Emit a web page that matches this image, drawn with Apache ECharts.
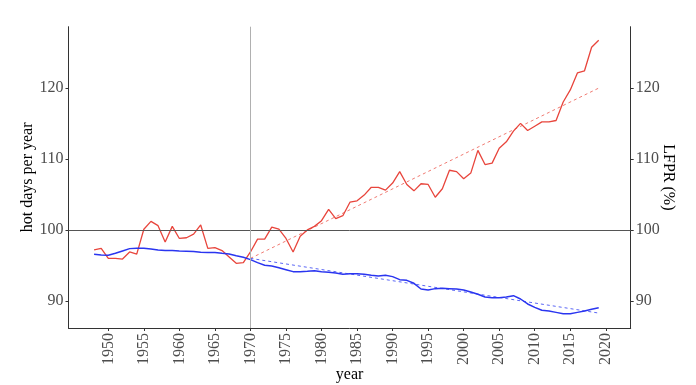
<!DOCTYPE html>
<html><head><meta charset="utf-8">
<script src="https://cdn.jsdelivr.net/npm/echarts@6/dist/echarts.min.js"></script>
<style>html,body{margin:0;padding:0;background:#fff}#c{width:696px;height:385px}</style>
</head><body><div id="c"></div>
<script>
const years = [];
for (let y = 1948; y <= 2019; y++) years.push(y);
const hotDays = [97.2,97.4,96.0,96.0,95.9,96.9,96.6,100.1,101.2,100.6,98.3,100.5,98.8,98.9,99.4,100.7,97.4,97.5,97.1,96.2,95.3,95.4,
  96.9,98.7,98.7,100.4,100.1,98.8,96.9,99.1,100.0,100.5,101.3,102.9,101.6,102.0,103.9,104.1,104.9,106.0,106.0,105.6,106.6,108.2,106.4,105.5,106.5,106.4,104.6,105.8,108.4,108.2,107.2,108.0,111.2,109.2,109.4,111.5,112.4,113.9,115.0,114.0,114.6,115.2,115.2,115.4,118.0,119.7,122.1,122.4,125.7,126.7];
const lfpr = [96.57,96.48,96.43,96.71,97.04,97.37,97.42,97.42,97.32,97.18,97.09,97.09,97.04,97.0,96.95,96.85,96.81,96.81,96.71,96.62,96.38,96.15,
  95.82,95.4,95.02,94.93,94.69,94.41,94.13,94.13,94.18,94.27,94.13,94.04,93.94,93.76,93.85,93.85,93.76,93.62,93.52,93.62,93.43,93.0,92.91,92.49,91.69,91.55,91.74,91.78,91.74,91.69,91.55,91.27,90.94,90.56,90.47,90.47,90.56,90.75,90.28,89.58,89.11,88.69,88.59,88.4,88.21,88.21,88.4,88.59,88.83,89.06];
const trendYears = [1970, 2019];
const hotTrend = [96.0, 119.96];
const lfprTrend = [96.0, 88.3];
const xTicks = [1950,1955,1960,1965,1970,1975,1980,1985,1990,1995,2000,2005,2010,2015,2020];
const yTicks = [90,100,110,120];
const refYear = 1970, refLevel = 100;

const font = 'Liberation Serif';
const pair = (xs, ys) => xs.map((x, i) => [x, ys[i]]);
const yAx = (pos, name, rot, gap) => ({
  type:'value', position:pos, min:86.2, max:128.6, name:name, nameLocation:'middle', nameRotate:rot, nameGap:gap,
  nameMoveOverlap:false,
  nameTextStyle:{fontFamily:font, fontSize:16, color:'#000'},
  axisLine:{show:true, lineStyle:{color:'#333', width:1}},
  axisTick:{show:true, length:3, customValues:yTicks, lineStyle:{color:'#333'}},
  axisLabel:{customValues:yTicks, fontFamily:font, fontSize:16, color:'#4d4d4d', margin:5, formatter:v => String(v)},
  splitLine:{show:false}
});
const chart = echarts.init(document.getElementById('c'), null, {renderer:'canvas'});
chart.setOption({
  animation:false,
  grid:{left:68.5, right:65.3, top:26.7, bottom:57, containLabel:false, outerBoundsMode:'none'},
  xAxis:{type:'value', min:1944.4, max:2023.5, name:'year', nameLocation:'middle', nameGap:39, nameMoveOverlap:false,
    nameTextStyle:{fontFamily:font, fontSize:16, color:'#000'},
    axisLine:{show:true, onZero:false, lineStyle:{color:'#333', width:1}},
    axisTick:{show:true, length:3, customValues:xTicks, lineStyle:{color:'#333'}},
    axisLabel:{customValues:xTicks, rotate:90, fontFamily:font, fontSize:16, color:'#4d4d4d', margin:5, padding:[0,0,0,0], formatter:v => String(v)},
    splitLine:{show:false}},
  yAxis:[yAx('left','hot days per year',90,33), yAx('right','LFPR (%)',-90,30)],
  series:[
    {type:'line', data:pair(years, hotDays), yAxisIndex:0, showSymbol:false, lineStyle:{color:'#e8453c', width:1.3}, z:3,
     markLine:{silent:true, symbol:'none', label:{show:false},
       data:[{yAxis:refLevel, lineStyle:{color:'#555', width:1, type:'solid'}},
             {xAxis:refYear, lineStyle:{color:'#b0b0b0', width:1, type:'solid'}}]}},
    {type:'line', data:pair(years, lfpr), yAxisIndex:1, showSymbol:false, lineStyle:{color:'#2a35f0', width:1.5}, z:3},
    {type:'line', data:pair(trendYears, hotTrend), yAxisIndex:0, showSymbol:false, lineStyle:{color:'#f07a72', width:1, type:[3,3]}, z:2},
    {type:'line', data:pair(trendYears, lfprTrend), yAxisIndex:1, showSymbol:false, lineStyle:{color:'#5a66f5', width:1, type:[3,3]}, z:2}
  ]
});
</script></body></html>
